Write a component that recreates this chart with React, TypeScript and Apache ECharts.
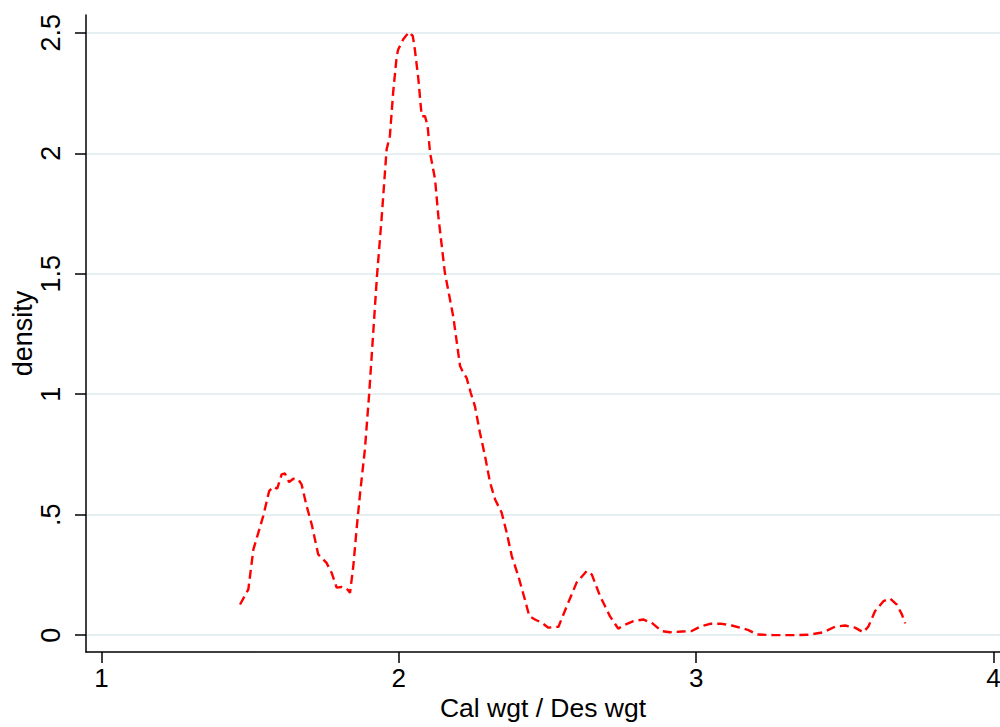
import React, { useEffect, useRef } from "react";
import * as echarts from "echarts";

// ratio Cal wgt / Des wgt (x) and estimated kernel density (y)
const ratioValues: number[] = [
  1.466, 1.494, 1.511, 1.544, 1.564, 1.578, 1.591, 1.606, 1.617, 1.631,
  1.645, 1.662, 1.673, 1.69, 1.707, 1.729, 1.741, 1.757, 1.774, 1.791,
  1.808, 1.825, 1.836, 1.847, 1.858, 1.87, 1.886, 1.9, 1.927, 1.942,
  1.959, 1.97, 1.981, 1.993, 1.998, 2.015, 2.034, 2.047, 2.054, 2.066,
  2.077, 2.088, 2.097, 2.105, 2.122, 2.133, 2.155, 2.183, 2.206, 2.217,
  2.228, 2.242, 2.256, 2.273, 2.29, 2.307, 2.324, 2.346, 2.363, 2.38,
  2.402, 2.424, 2.439, 2.458, 2.481, 2.503, 2.537, 2.565, 2.598, 2.632,
  2.649, 2.677, 2.71, 2.738, 2.755, 2.789, 2.822, 2.851, 2.884, 2.912,
  2.952, 2.985, 3.013, 3.047, 3.086, 3.12, 3.148, 3.176, 3.204, 3.26,
  3.338, 3.383, 3.428, 3.467, 3.501, 3.534, 3.562, 3.579, 3.602, 3.63,
  3.652, 3.675, 3.692, 3.703,
];
const densityValues: number[] = [
  0.127, 0.19, 0.356, 0.494, 0.598, 0.616, 0.608, 0.667, 0.671, 0.635,
  0.649, 0.646, 0.626, 0.536, 0.46, 0.335, 0.321, 0.3, 0.259, 0.197,
  0.2, 0.193, 0.176, 0.286, 0.439, 0.591, 0.771, 0.995, 1.497, 1.726,
  2.016, 2.071, 2.252, 2.403, 2.431, 2.473, 2.503, 2.487, 2.431, 2.307,
  2.154, 2.154, 2.113, 2.003, 1.892, 1.739, 1.504, 1.324, 1.117, 1.089,
  1.068, 1.006, 0.951, 0.84, 0.743, 0.633, 0.563, 0.508, 0.425, 0.328,
  0.245, 0.148, 0.079, 0.065, 0.051, 0.031, 0.035, 0.12, 0.218, 0.266,
  0.252, 0.162, 0.079, 0.027, 0.04, 0.058, 0.065, 0.051, 0.017, 0.012,
  0.015, 0.017, 0.035, 0.047, 0.047, 0.04, 0.031, 0.021, 0.003, 0.0,
  0.0, 0.002, 0.012, 0.035, 0.04, 0.031, 0.012, 0.035, 0.1, 0.141,
  0.152, 0.127, 0.086, 0.049,
];

const xTicks: number[] = [1, 2, 3, 4];
const yTicks: number[] = [0, 0.5, 1, 1.5, 2, 2.5];
const yTickLabels: string[] = ["0", ".5", "1", "1.5", "2", "2.5"];

const FONT = "'Liberation Sans', Arial, Helvetica, sans-serif";

export default function App() {
  const ref = useRef<HTMLDivElement>(null);

  useEffect(() => {
    if (!ref.current) return;
    const chart = echarts.init(ref.current, undefined, { renderer: "svg" });
    const data = ratioValues.map((x, i) => [x, densityValues[i]]);
    chart.setOption({
      animation: false,
      backgroundColor: "#ffffff",
      grid: {
        left: 86,
        top: 15,
        right: 0,
        bottom: 75,
        containLabel: false,
        outerBoundsMode: "none",
      },
      xAxis: {
        type: "value",
        min: 0.948,
        max: 4.022,
        name: "Cal wgt / Des wgt",
        nameLocation: "middle",
        nameGap: 42,
        nameMoveOverlap: false,
        nameTextStyle: { fontFamily: FONT, fontSize: 26.5, color: "#000" },
        axisLine: { show: true, onZero: false, lineStyle: { color: "#000", width: 1.5 } },
        axisTick: {
          show: true,
          length: 11,
          inside: false,
          customValues: xTicks,
          lineStyle: { color: "#000", width: 1.5 },
        },
        axisLabel: {
          customValues: xTicks,
          margin: 13,
          fontFamily: FONT,
          fontSize: 26,
          color: "#000",
        },
        splitLine: { show: false },
      },
      yAxis: {
        type: "value",
        min: -0.07,
        max: 2.574,
        name: "density",
        nameLocation: "middle",
        nameGap: 50,
        nameRotate: 90,
        nameMoveOverlap: false,
        nameTextStyle: { fontFamily: FONT, fontSize: 27, color: "#000" },
        axisLine: { show: true, onZero: false, lineStyle: { color: "#000", width: 1.5 } },
        axisTick: {
          show: true,
          length: 11,
          inside: false,
          customValues: yTicks,
          lineStyle: { color: "#000", width: 1.5 },
        },
        axisLabel: {
          customValues: yTicks,
          rotate: 90,
          margin: 22,
          fontFamily: FONT,
          fontSize: 27,
          color: "#000",
          formatter: (v: number) => {
            const idx = yTicks.findIndex((t) => Math.abs(t - v) < 1e-9);
            return idx >= 0 ? yTickLabels[idx] : "";
          },
        },
        splitLine: {
          show: true,
          lineStyle: { color: "#e6eff1", width: 2 },
        },
      },
      series: [
        {
          type: "line",
          data,
          showSymbol: false,
          symbol: "none",
          smooth: false,
          lineStyle: { color: "#ff0000", width: 2.4, type: [9, 5] },
          z: 5,
        },
      ],
    });
    return () => chart.dispose();
  }, []);

  return (
    <div
      ref={ref}
      style={{ position: "fixed", left: 0, top: 0, width: 1000, height: 727, background: "#fff" }}
    />
  );
}
